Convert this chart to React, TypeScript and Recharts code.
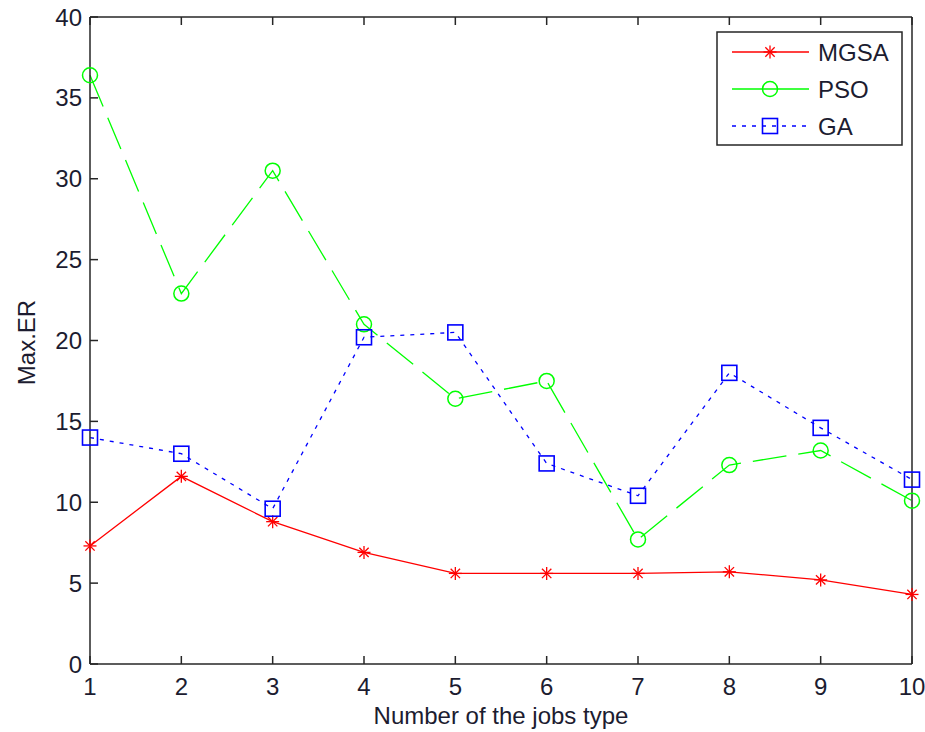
import React from "react";
import { LineChart, Line, XAxis, YAxis } from "recharts";

const jobTypes = [1, 2, 3, 4, 5, 6, 7, 8, 9, 10];
const mgsa = [7.3, 11.6, 8.8, 6.9, 5.6, 5.6, 5.6, 5.7, 5.2, 4.3];
const pso = [36.4, 22.9, 30.5, 21.0, 16.4, 17.5, 7.7, 12.3, 13.2, 10.1];
const ga = [14.0, 13.0, 9.6, 20.2, 20.5, 12.4, 10.4, 18.0, 14.6, 11.4];
const yTicks = [0, 5, 10, 15, 20, 25, 30, 35, 40];

const data = jobTypes.map((n, i) => ({
  n,
  MGSA: mgsa[i],
  PSO: pso[i],
  GA: ga[i],
}));

const RED = "#ff0000";
const GREEN = "#00ff00";
const BLUE = "#0000ff";
const AXIS = "#262626";
const TEXT = "#1c1c30";
const FONT = "'Liberation Sans', Arial, sans-serif";
const TICK = 8;

// MATLAB style markers
const Star = ({ cx, cy, color }: any) => {
  if (cx == null || cy == null) return null;
  const r = 6.5;
  const d = r * 0.72;
  return (
    <g stroke={color} strokeWidth={1.3}>
      <line x1={cx - r} y1={cy} x2={cx + r} y2={cy} />
      <line x1={cx} y1={cy - r} x2={cx} y2={cy + r} />
      <line x1={cx - d} y1={cy - d} x2={cx + d} y2={cy + d} />
      <line x1={cx - d} y1={cy + d} x2={cx + d} y2={cy - d} />
    </g>
  );
};

const Ring = ({ cx, cy, color }: any) => {
  if (cx == null || cy == null) return null;
  return <circle cx={cx} cy={cy} r={7.5} fill="none" stroke={color} strokeWidth={1.5} />;
};

const Box = ({ cx, cy, color }: any) => {
  if (cx == null || cy == null) return null;
  return (
    <rect x={cx - 7.5} y={cy - 7.5} width={15} height={15} fill="none" stroke={color} strokeWidth={1.6} />
  );
};

// inward ticks, matlab look
const BottomTick = ({ x, y, payload }: any) => (
  <g>
    <line x1={x} y1={y} x2={x} y2={y - TICK} stroke={AXIS} strokeWidth={1.5} />
    <text x={x} y={y + 31} textAnchor="middle" fontSize={24} fontFamily={FONT} fill={TEXT}>
      {payload.value}
    </text>
  </g>
);

const TopTick = ({ x, y }: any) => (
  <line x1={x} y1={y} x2={x} y2={y + TICK} stroke={AXIS} strokeWidth={1.5} />
);

const LeftTick = ({ x, y, payload }: any) => (
  <g>
    <line x1={x} y1={y} x2={x + TICK} y2={y} stroke={AXIS} strokeWidth={1.5} />
    <text x={x - 8} y={y + 8.5} textAnchor="end" fontSize={24} fontFamily={FONT} fill={TEXT}>
      {payload.value}
    </text>
  </g>
);

const RightTick = ({ x, y }: any) => (
  <line x1={x} y1={y} x2={x - TICK} y2={y} stroke={AXIS} strokeWidth={1.5} />
);

const XTitle = ({ viewBox }: any) => {
  const { x, y, width } = viewBox;
  return (
    <text x={x + width / 2} y={y + 60} textAnchor="middle" fontSize={24} fontFamily={FONT} fill={TEXT}>
      Number of the jobs type
    </text>
  );
};

const YTitle = ({ viewBox }: any) => {
  const { x, y, height } = viewBox;
  const cx = x + 35;
  const cy = y + height / 2 + 2;
  return (
    <text
      x={cx}
      y={cy}
      transform={`rotate(-90 ${cx} ${cy})`}
      textAnchor="middle"
      fontSize={24}
      fontFamily={FONT}
      fill={TEXT}
    >
      Max.ER
    </text>
  );
};

const legendRows = [
  { name: "MGSA", color: RED, dash: undefined, Mark: Star },
  { name: "PSO", color: GREEN, dash: undefined, Mark: Ring },
  { name: "GA", color: BLUE, dash: "4 6", Mark: Box },
];

const LegendBox = () => (
  <svg
    width={187}
    height={115}
    style={{ position: "absolute", left: 716, top: 31, display: "block" }}
  >
    <rect x={1} y={1} width={185} height={113} fill="#fff" stroke={AXIS} strokeWidth={1.5} />
    {legendRows.map((r, i) => {
      const y = 21 + i * 37;
      return (
        <g key={r.name}>
          <line x1={16} y1={y} x2={93} y2={y} stroke={r.color} strokeWidth={1.3} strokeDasharray={r.dash} />
          <r.Mark cx={54} cy={y} color={r.color} />
          <text x={102} y={y + 8.5} fontSize={24} fontFamily={FONT} fill={TEXT}>
            {r.name}
          </text>
        </g>
      );
    })}
  </svg>
);

export default function App() {
  return (
    <div style={{ position: "absolute", left: 0, top: 0, width: 925, height: 732, background: "#fff" }}>
      <LineChart
        width={925}
        height={732}
        data={data}
        margin={{ top: 16, right: 12, left: 0, bottom: 0 }}
      >
        <XAxis
          dataKey="n"
          type="number"
          domain={[1, 10]}
          ticks={jobTypes}
          xAxisId="b"
          height={68}
          stroke={AXIS}
          strokeWidth={1.5}
          tickLine={false}
          tickSize={0}
          tickMargin={0}
          tick={<BottomTick />}
          label={<XTitle />}
        />
        <XAxis
          dataKey="n"
          type="number"
          domain={[1, 10]}
          ticks={jobTypes}
          xAxisId="t"
          orientation="top"
          height={1}
          stroke={AXIS}
          strokeWidth={1.5}
          tickLine={false}
          tickSize={0}
          tickMargin={0}
          tick={<TopTick />}
        />
        <YAxis
          yAxisId="l"
          domain={[0, 40]}
          ticks={yTicks}
          width={90}
          stroke={AXIS}
          strokeWidth={1.5}
          tickLine={false}
          tickSize={0}
          tickMargin={0}
          tick={<LeftTick />}
          label={<YTitle />}
        />
        <YAxis
          yAxisId="r"
          orientation="right"
          domain={[0, 40]}
          ticks={yTicks}
          width={1}
          stroke={AXIS}
          strokeWidth={1.5}
          tickLine={false}
          tickSize={0}
          tickMargin={0}
          tick={<RightTick />}
        />
        <Line
          xAxisId="b"
          yAxisId="l"
          dataKey="MGSA"
          stroke={RED}
          strokeWidth={1.3}
          dot={<Star color={RED} />}
          isAnimationActive={false}
        />
        <Line
          xAxisId="b"
          yAxisId="l"
          dataKey="PSO"
          stroke={GREEN}
          strokeWidth={1.3}
          strokeDasharray="34 12"
          dot={<Ring color={GREEN} />}
          isAnimationActive={false}
        />
        <Line
          xAxisId="b"
          yAxisId="l"
          dataKey="GA"
          stroke={BLUE}
          strokeWidth={1.3}
          strokeDasharray="4 6"
          dot={<Box color={BLUE} />}
          isAnimationActive={false}
        />
      </LineChart>
      <LegendBox />
    </div>
  );
}
